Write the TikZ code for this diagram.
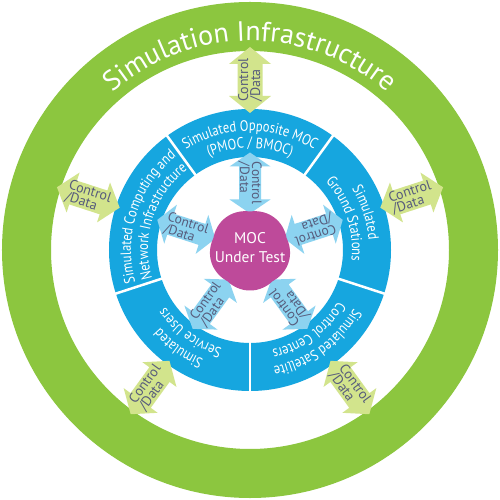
\documentclass[tikz,border=0pt]{standalone}
\usepackage{fontspec}
\setmainfont{PT Sans}
\newfontfamily\segfamily[FakeStretch=0.84]{PT Sans}
\usetikzlibrary{decorations.text}
\definecolor{ringgreen}{HTML}{8CC63F}
\definecolor{ringblue}{HTML}{16A6DF}
\definecolor{mocmag}{HTML}{BE4A9A}
\definecolor{arrgreen}{HTML}{D2E48C}
\definecolor{arrblue}{HTML}{8CD3F0}
\definecolor{arrtext}{HTML}{575C7C}
\newcommand{\segf}{\segfamily\fontsize{15}{15}\selectfont}
\newcommand{\titf}{\fontsize{28}{28}\selectfont}
\tikzset{
  gfill/.style={fill=arrgreen},
  bfill/.style={fill=arrblue},
  gtext/.style={text=arrtext, font=\fontsize{14}{12}\selectfont, align=left, inner sep=0pt},
  btext/.style={text=arrtext, font=\fontsize{13.5}{12}\selectfont, align=left, inner sep=0pt},
  divider/.style={white, line width=2.5pt},
}
% #1 centre angle, #2 radius, #3 font, #4 text
\newcommand{\arctext}[4]{%
  \path[decorate, decoration={text along path, text align=center, text color=white, text={|#3|#4}}]
    ({#1+50}:#2) arc[start angle={#1+50}, end angle={#1-50}, radius=#2];}
% #1 name, #2 direction, #3 mid radius, #4 rotation, #5 half length, #6 head length, #7 head half width, #8 body half width, #9 kind
\newcommand{\darrow}[9]{%
  \begin{scope}[shift={(#2:#3)}, rotate=#4]
    \fill[#9fill] (-#5,0) -- ({-#5+#6},#7) -- ({-#5+#6},#8) -- ({#5-#6},#8) -- ({#5-#6},#7) -- (#5,0)
      -- ({#5-#6},-#7) -- ({#5-#6},-#8) -- ({-#5+#6},-#8) -- ({-#5+#6},-#7) -- cycle;
    \node[#9text, transform shape] (#1) at (0,0) {Control\\/Data};
  \end{scope}}
\newcommand{\garrow}[3]{\darrow{#1}{#2}{170}{#3}{33}{17}{21}{12.5}{g}}
\newcommand{\barrow}[3]{\darrow{#1}{#2}{67}{#3}{30.5}{14}{20.5}{11}{b}}
\begin{document}
\begin{tikzpicture}[x=1pt,y=1pt]
\useasboundingbox (-250,-250) rectangle (250,250);
\fill[white] (-250,-250) rectangle (250,250);
% rings
\fill[ringgreen, even odd rule] (0,0) circle[radius=248] (0,0) circle[radius=199];
\fill[ringblue, even odd rule] (0,0) circle[radius=141] (0,0) circle[radius=93];
\foreach \a in {54,126,198,270,342} \draw[divider] (\a:92) -- (\a:142);
% ring texts
\arctext{90}{209}{\titf}{Simulation Infrastructure}
\arctext{90}{119}{\segf}{Simulated Opposite MOC}
\arctext{90}{102}{\segf}{(PMOC / BMOC)}
\arctext{162}{119}{\segf}{Simulated Computing and}
\arctext{162}{102}{\segf}{Network Infrastructure}
\arctext{18}{119}{\segf}{Simulated}
\arctext{18}{102}{\segf}{Ground Stations}
\arctext{306}{119}{\segf}{Simulated Satellite}
\arctext{306}{102}{\segf}{Control Centers}
\arctext{234}{119}{\segf}{Simulated}
\arctext{234}{102}{\segf}{Service Users}
% inner arrows
\barrow{ia1}{90}{-90}
\barrow{ia2}{162}{-18}
\barrow{ia3}{18}{198}
\barrow{ia4}{234}{54}
\barrow{ia5}{306}{126}
% centre
\fill[mocmag] plot[domain=0:360, samples=181, variable=\t]
  ({(38.5+2*abs(sin(2.5*(\t-90))))*cos(\t)}, {(38.5+2*abs(sin(2.5*(\t-90))))*sin(\t)}) -- cycle;
\node[text=white, align=center, font=\fontsize{15.5}{19}\selectfont, inner sep=0pt] (moc) at (0,2) {MOC\\Under Test};
% outer arrows
\garrow{oa1}{90}{90}
\garrow{oa2}{162}{-18}
\garrow{oa3}{18}{18}
\garrow{oa4}{234}{54}
\garrow{oa5}{306}{-54}
\end{tikzpicture}
\end{document}
